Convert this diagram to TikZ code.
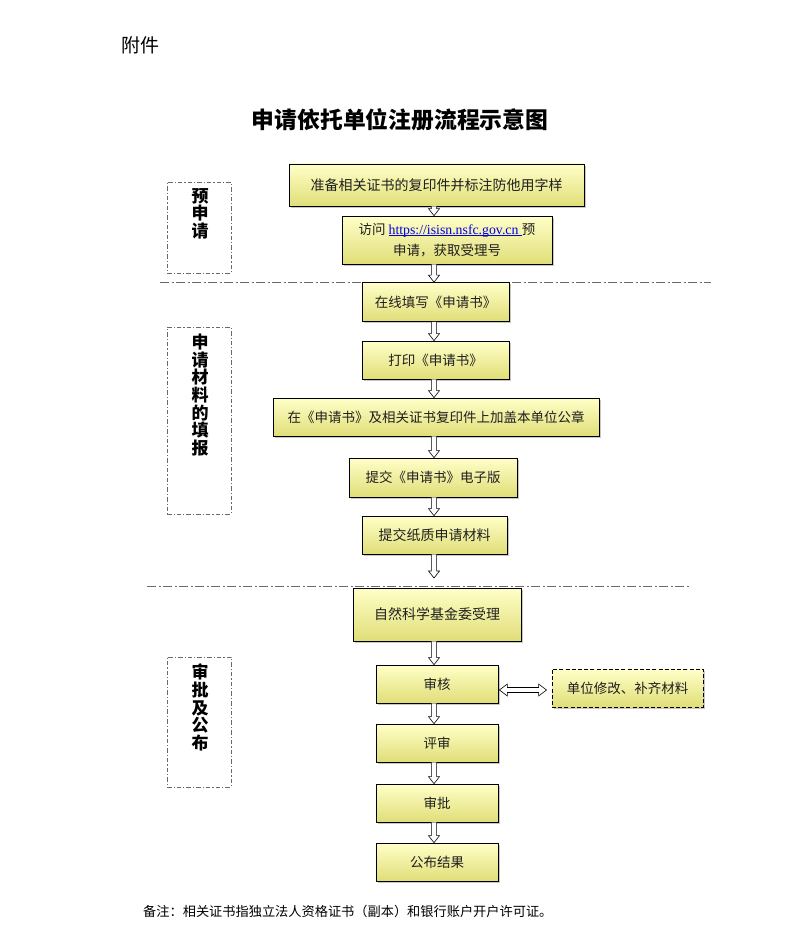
\documentclass[tikz,border=0pt]{standalone}
\usepackage{fontspec}
\setmainfont{Noto Sans CJK SC}
\newfontfamily\urlserif{Liberation Serif}
\usetikzlibrary{shadows,calc}
\definecolor{boxtop}{RGB}{255,255,200}
\definecolor{boxbot}{RGB}{224,222,120}
\definecolor{sepgray}{RGB}{105,105,105}
\definecolor{linkblue}{RGB}{0,0,230}
\newcommand{\myul}[1]{\setbox0\hbox{#1}\rlap{\rule[-1.4pt]{\wd0}{0.6pt}}\box0}
\newcommand{\hollowdown}[2]{%
  \path[hollow] let \p1=(#1), \p2=(#2) in
    (\x1-2.6pt,\y1) -- (\x1-2.6pt,\y2+7pt) -- (\x1-5.5pt,\y2+7pt) -- (\x1,\y2)
    -- (\x1+5.5pt,\y2+7pt) -- (\x1+2.6pt,\y2+7pt) -- (\x1+2.6pt,\y1);}
\newcommand{\hollowboth}[2]{%
  \path[hollow] let \p1=(#1), \p2=(#2), \n1={\y2-2pt} in
    (\x1+1pt,\n1) -- (\x1+9pt,\n1+6pt) -- (\x1+9pt,\n1+2.5pt) -- (\x2-13pt,\n1+2.5pt)
    -- (\x2-13pt,\n1+6pt) -- (\x2-5pt,\n1) -- (\x2-13pt,\n1-6pt) -- (\x2-13pt,\n1-2.5pt)
    -- (\x1+9pt,\n1-2.5pt) -- (\x1+9pt,\n1-6pt) -- cycle;}
\begin{document}
\begin{tikzpicture}[x=1pt,y=-1pt,
  box/.style={draw=black, line width=0.7pt, top color=boxtop, bottom color=boxbot,
    drop shadow={shadow xshift=1.6pt, shadow yshift=-1.6pt, fill=black, opacity=0.22},
    inner sep=0pt, align=center, text=black!88, font=\fontsize{13.5}{21}\selectfont},
  dashbox/.style={box, dash pattern=on 4pt off 2.2pt, line width=0.9pt},
  sz/.style 2 args={minimum width=#1pt, minimum height=#2pt},
  lbl/.style={draw=sepgray, line width=0.8pt, dash pattern=on 4.5pt off 2pt on 1.2pt off 2pt,
    minimum width=64pt, inner sep=0pt},
  lbltxt/.style={font=\fontsize{17}{17.6}\selectfont\bfseries, align=center, anchor=north, inner sep=0pt},
  sep/.style={draw=sepgray, line width=0.9pt, dash pattern=on 9pt off 2.5pt on 2pt off 2.5pt},
  hollow/.style={draw=black, fill=white, line width=0.6pt, line join=miter}
]
\useasboundingbox (0,0) rectangle (791,936);

% header and title
\node[anchor=west, inner sep=0pt, font=\fontsize{19}{22}\selectfont] (fj) at (121,45.5) {附件};
\node[inner sep=0pt, font=\fontsize{22.8}{26}\selectfont\bfseries] (title) at (400,120) {申请依托单位注册流程示意图};

% separators
\coordinate (s1a) at (160,282); \coordinate (s1b) at (711,282);
\coordinate (s2a) at (147,586); \coordinate (s2b) at (690,586);
\draw[sep] (s1a) -- (s1b);
\draw[sep] (s2a) -- (s2b);

% stage labels
\node[lbl, minimum height=91pt] (L1) at (199,227.5) {};
\node[lbltxt] (L1t) at (200,188) {预\\申\\请};
\node[lbl, minimum height=187pt] (L2) at (199,420.5) {};
\node[lbltxt] (L2t) at (200,334) {申\\请\\材\\料\\的\\填\\报};
\node[lbl, minimum height=130pt] (L3) at (199,722) {};
\node[lbltxt] (L3t) at (200,664) {审\\批\\及\\公\\布};

% process boxes
\node[box, sz={295}{42}, font=\fontsize{14}{21}\selectfont] (b1) at (436.5,185) {准备相关证书的复印件并标注防他用字样};
\node[box, sz={210}{48}] (b2) at (447,240) {访问 {\urlserif\fontsize{13.8}{16}\selectfont\color{linkblue}\myul{https://isisn.nsfc.gov.cn\ }}预\\申请，获取受理号};
\node[box, sz={147}{39}] (b3) at (435.5,302) {在线填写《申请书》};
\node[box, sz={147}{38}] (b4) at (435.5,360) {打印《申请书》};
\node[box, sz={326}{38}] (b5) at (436,417) {在《申请书》及相关证书复印件上加盖本单位公章};
\node[box, sz={168}{39}] (b6) at (433,477.5) {提交《申请书》电子版};
\node[box, sz={145}{38}, font=\fontsize{14}{21}\selectfont] (b7) at (434.5,535) {提交纸质申请材料};
\node[box, sz={168}{53}, font=\fontsize{14}{21}\selectfont] (b8) at (437,614.5) {自然科学基金委受理};
\node[box, sz={122}{38}] (b9) at (437,684) {审核};
\node[dashbox, sz={151}{38}] (b10) at (627.5,688) {单位修改、补齐材料};
\node[box, sz={122}{38}] (b11) at (437,743) {评审};
\node[box, sz={122}{38}] (b12) at (437,803) {审批};
\node[box, sz={122}{38}] (b13) at (437,862) {公布结果};

% footnote
\node[anchor=west, inner sep=0pt, font=\fontsize{13.2}{16}\selectfont] (note) at (143,911) {备注：相关证书指独立法人资格证书（副本）和银行账户开户许可证。};

% connectors
\coordinate (ax) at (434,0);
\coordinate (free) at (434,578);
\hollowdown{b1.south -| ax}{b2.north -| ax}
\hollowdown{b2.south -| ax}{b3.north -| ax}
\hollowdown{b3.south -| ax}{b4.north -| ax}
\hollowdown{b4.south -| ax}{b5.north -| ax}
\hollowdown{b5.south -| ax}{b6.north -| ax}
\hollowdown{b6.south -| ax}{b7.north -| ax}
\hollowdown{b7.south -| ax}{free}
\hollowdown{b8.south -| ax}{b9.north -| ax}
\hollowdown{b9.south -| ax}{b11.north -| ax}
\hollowdown{b11.south -| ax}{b12.north -| ax}
\hollowdown{b12.south -| ax}{b13.north -| ax}
\hollowboth{b9.east}{b10.west}
\end{tikzpicture}
\end{document}
